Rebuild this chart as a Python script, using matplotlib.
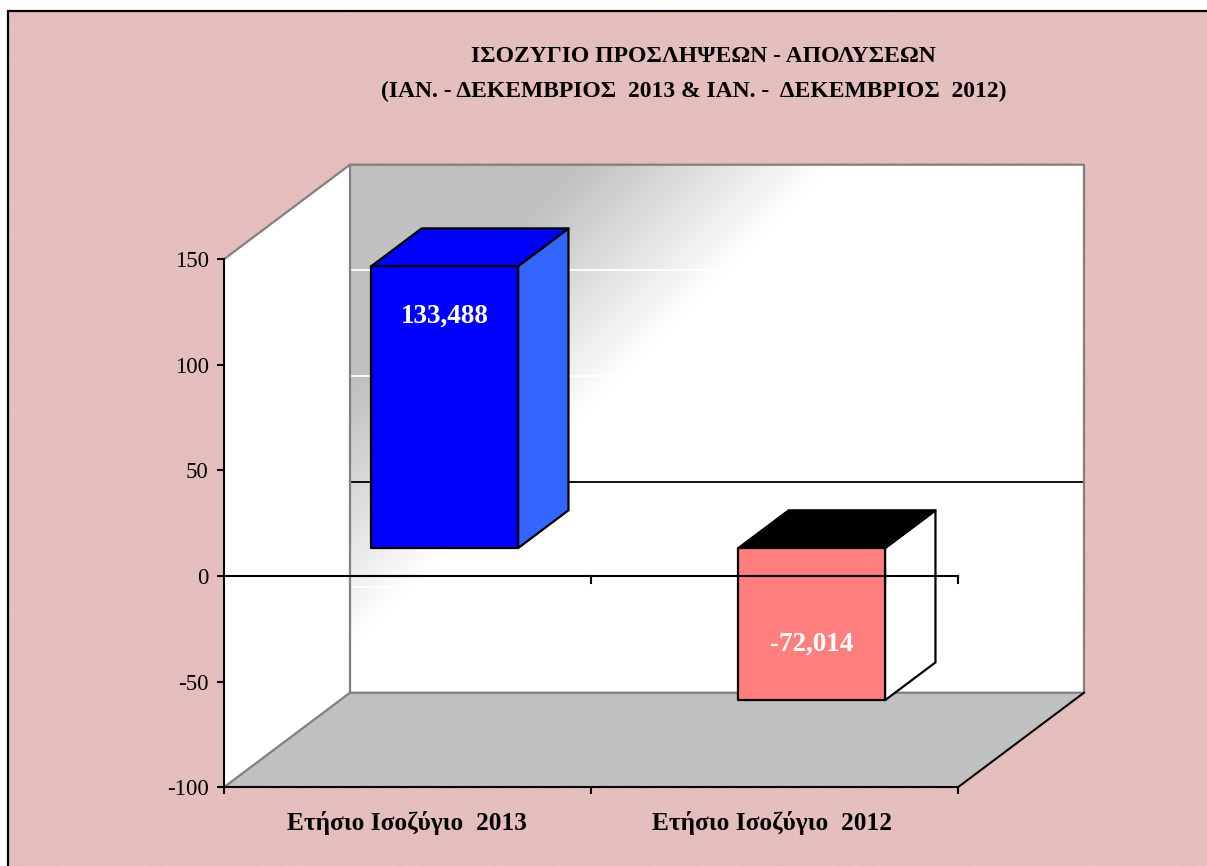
import numpy as np
import matplotlib
matplotlib.use("Agg")
import matplotlib.pyplot as plt
from matplotlib.patches import Polygon

# ── Data ──────────────────────────────────────────────
categories = ["Ετήσιο Ισοζύγιο  2013", "Ετήσιο Ισοζύγιο  2012"]
values = [133.488, -72.014]
value_labels = ["133,488", "-72,014"]
y_ticks = [-100, -50, 0, 50, 100, 150]
title_lines = ["ΙΣΟΖΥΓΙΟ ΠΡΟΣΛΗΨΕΩΝ - ΑΠΟΛΥΣΕΩΝ",
               "(ΙΑΝ. - ΔΕΚΕΜΒΡΙΟΣ  2013 & ΙΑΝ. -  ΔΕΚΕΜΒΡΙΟΣ  2012)"]

# ── Layout (pixels of the 1207x866 picture) ───────────
W, H = 1207, 866
PX_X0, PX_CAT = 224, 367       # left of the axis, width of one category
PX_Y0, PX_UNIT = 576, 2.112    # row of value 0, pixels per unit
DEPTH_X = 126 / PX_CAT         # oblique offset of the back wall, data units
DEPTH_Y = 94.5 / PX_UNIT
BAR_W, BAR_D0, BAR_D1 = 0.4, 0.295, 0.695

plt.rcParams["font.family"] = ["Liberation Serif", "DejaVu Serif"]
GRAY = "#C0C0C0"
EDGE = "#808080"

fig = plt.figure(figsize=(W / 100, H / 100), dpi=100, facecolor="white")

# ── Paper background and frame ────────────────────────
bg = fig.add_axes([0, 0, 1, 1])
yy, xx = np.mgrid[0:H, 0:W]
ripple = (np.sin(xx * 1.37 + yy * 0.71) + np.sin(xx * 0.53 - yy * 1.91)
          + np.sin(xx * 2.23 + yy * 2.89) + np.sin((xx + yy) * 0.123) * np.sin((xx - yy) * 0.091))
paper = np.stack([229 + ripple, 190 + ripple, 190 + ripple], axis=-1) / 255
bg.imshow(np.clip(paper, 0, 1), extent=(0, W, H, 0), aspect="auto", interpolation="nearest")
bg.fill_between([0, W], 0, 10, color="white", lw=0)
bg.fill_between([0, 7], 0, H, color="white", lw=0)
bg.plot([8, 8, W], [H, 11, 11], color="black", lw=1.6, solid_joinstyle="miter")
bg.set_xlim(0, W)
bg.set_ylim(H, 0)
bg.axis("off")

# ── Chart axes: data coordinates mapped onto the whole figure ─
ax = fig.add_axes([0, 0, 1, 1], facecolor="none")
xlim = (-PX_X0 / PX_CAT, (W - PX_X0) / PX_CAT)
ylim = ((PX_Y0 - H) / PX_UNIT, PX_Y0 / PX_UNIT)
y_lo, y_hi = y_ticks[0], y_ticks[-1]
n_cat = len(categories)


def proj(x, y, d):
    return (x + d * DEPTH_X, y + d * DEPTH_Y)


# left wall and floor
ax.add_patch(Polygon([proj(0, y_lo, 0), proj(0, y_hi, 0), proj(0, y_hi, 1), proj(0, y_lo, 1)],
                     fc="white", ec="none", zorder=1))
ax.add_patch(Polygon([proj(0, y_lo, 0), proj(n_cat, y_lo, 0), proj(n_cat, y_lo, 1), proj(0, y_lo, 1)],
                     fc=GRAY, ec="none", zorder=1))

# back wall with diagonal fade, grey top-left to white
v, u = np.mgrid[0:1:300j, 0:1:600j]
t = np.clip((u * 734 + v * 528 - 230) / 253, 0, 1)
shade = (192 + (255 - 192) * t) / 255
ax.imshow(np.stack([shade] * 3, axis=-1), origin="upper", aspect="auto", interpolation="bilinear",
          extent=(DEPTH_X, n_cat + DEPTH_X, y_lo + DEPTH_Y, y_hi + DEPTH_Y), zorder=1)

# gridlines on the back wall
for tick in y_ticks[1:-1]:
    color = "black" if tick == 0 else "white"
    ax.plot([DEPTH_X, n_cat + DEPTH_X], [tick + DEPTH_Y] * 2, color=color, lw=1.3, zorder=2)

# wall outlines
wall_line = dict(color=EDGE, lw=1.6, zorder=3, solid_capstyle="round")
ax.plot(*zip(proj(0, y_hi, 0), proj(0, y_hi, 1), proj(n_cat, y_hi, 1), proj(n_cat, y_lo, 1),
             proj(0, y_lo, 1), proj(0, y_hi, 1)), **wall_line)
ax.plot(*zip(proj(0, y_lo, 0), proj(0, y_lo, 1)), **wall_line)
ax.plot(*zip(proj(n_cat, y_lo, 0), proj(n_cat, y_lo, 1)), color="black", lw=1.5, zorder=3)

# bars as oblique boxes
bar_styles = [("#0000FF", "#0000FF", "#3366FF"), ("#FF7F7F", "black", "white")]
for i, val in enumerate(values):
    x0, x1 = i + 0.5 - BAR_W / 2, i + 0.5 + BAR_W / 2
    lo, hi = min(val, 0), max(val, 0)
    front, top, side = bar_styles[i]
    kw = dict(ec="black", lw=1.6, joinstyle="round", zorder=4)
    ax.add_patch(Polygon([proj(x1, lo, BAR_D0), proj(x1, hi, BAR_D0), proj(x1, hi, BAR_D1), proj(x1, lo, BAR_D1)],
                         fc=side, **kw))
    ax.add_patch(Polygon([proj(x0, hi, BAR_D0), proj(x1, hi, BAR_D0), proj(x1, hi, BAR_D1), proj(x0, hi, BAR_D1)],
                         fc=top, **kw))
    ax.add_patch(Polygon([proj(x0, lo, BAR_D0), proj(x1, lo, BAR_D0), proj(x1, hi, BAR_D0), proj(x0, hi, BAR_D0)],
                         fc=front, **kw))
    # data label inside the bar
    cx, cy = proj(i + 0.5, val, BAR_D0)
    ax.annotate(value_labels[i], (cx, cy), xytext=(0, -50 if val > 0 else 56), textcoords="offset pixels",
                ha="center", va="center", color="white", fontsize=19.5, fontweight="bold", zorder=6)

# zero line of the front plane with its ticks
ax.plot([0, n_cat], [0, 0], color="black", lw=1.5, zorder=5)
for i in range(1, n_cat + 1):
    ax.plot([i, i], [0, -3.3], color="black", lw=1.5, zorder=5)

# ── Axes furniture ────────────────────────────────────
ax.set_xlim(*xlim)
ax.set_ylim(*ylim)
for name in ("top", "right"):
    ax.spines[name].set_visible(False)
ax.spines["left"].set_position(("data", 0))
ax.spines["left"].set_bounds(y_lo, y_hi)
ax.spines["bottom"].set_position(("data", y_lo))
ax.spines["bottom"].set_bounds(0, n_cat)
for name in ("left", "bottom"):
    ax.spines[name].set_linewidth(1.5)
    ax.spines[name].set_zorder(5)
ax.set_yticks(y_ticks)
ax.set_yticklabels([str(v) for v in y_ticks])
ax.tick_params(axis="y", direction="out", length=5, width=1.5, labelsize=16.5, pad=6)
ax.set_xticks(range(n_cat + 1))
ax.set_xticklabels([])
ax.tick_params(axis="x", direction="out", length=5, width=1.5)

# category labels
label_nudge = [-1, -2]
for i, name in enumerate(categories):
    ax.annotate(name, (i + 0.5, y_lo), xytext=(label_nudge[i], -36), textcoords="offset pixels",
                ha="center", va="center", fontsize=18.3, fontweight="bold")

# title in figure pixels
fig.text(703 / W, 1 - 56 / H, title_lines[0], ha="center", va="center", fontsize=17, fontweight="bold")
fig.text(694 / W, 1 - 91 / H, title_lines[1], ha="center", va="center", fontsize=17, fontweight="bold")

fig.savefig("out.png", dpi=100, facecolor="white")
plt.close("all")
